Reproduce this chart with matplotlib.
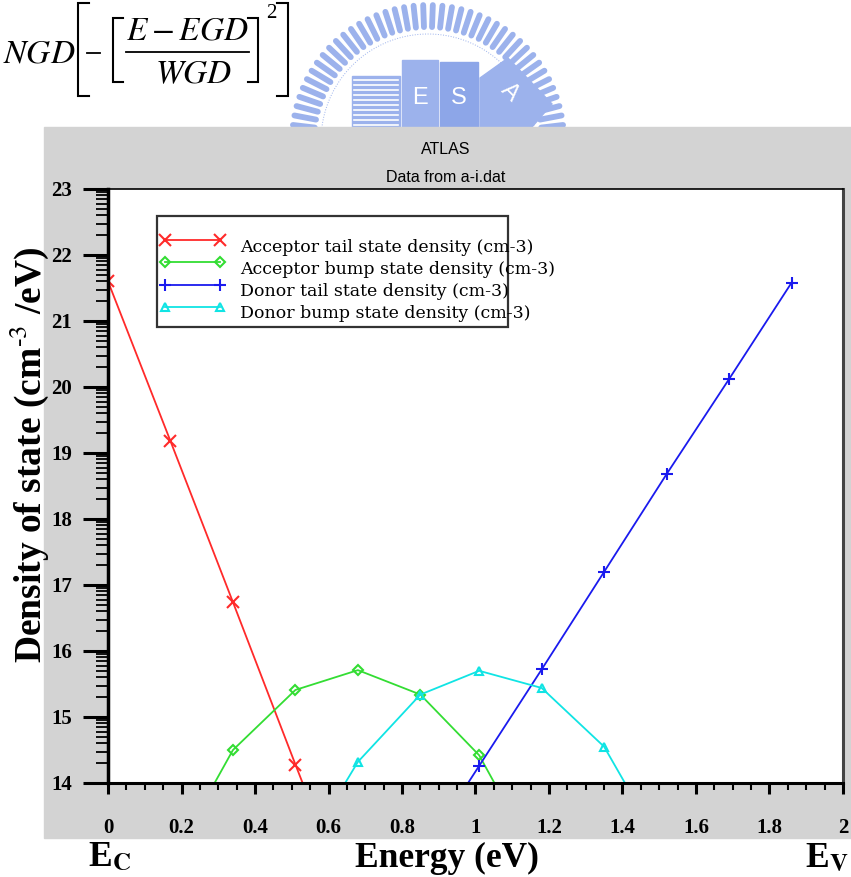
import numpy as np
import matplotlib
matplotlib.use("Agg")
import matplotlib.pyplot as plt
from matplotlib.patches import Rectangle, Polygon
from matplotlib.lines import Line2D

plt.rcParams['mathtext.fontset'] = 'stix'

# Data (log10 of density, energy in eV)
acc_tail_e = [0.0, 0.17, 0.34, 0.51, 0.68]
acc_tail = [21.6, 19.18, 16.74, 14.28, 11.85]
acc_bump_e = [0.17, 0.34, 0.51, 0.68, 0.85, 1.01, 1.18]
acc_bump = [12.8, 14.5, 15.41, 15.71, 15.34, 14.42, 12.7]
don_tail_e = [0.84, 1.01, 1.18, 1.35, 1.52, 1.69, 1.86]
don_tail = [12.8, 14.26, 15.72, 17.2, 18.68, 20.12, 21.58]
don_bump_e = [0.51, 0.68, 0.85, 1.01, 1.18, 1.35, 1.52]
don_bump = [12.75, 14.32, 15.34, 15.7, 15.44, 14.55, 12.9]

labels = ["Acceptor tail state density (cm-3)",
          "Acceptor bump state density (cm-3)",
          "Donor tail state density (cm-3)",
          "Donor bump state density (cm-3)"]
colors = ["#ff2a2a", "#33dd33", "#1a1aee", "#10e4e4"]
markers = ["x", "D", "+", "^"]
msizes = [8, 5, 9, 6]

xticks = [0, 0.2, 0.4, 0.6, 0.8, 1, 1.2, 1.4, 1.6, 1.8, 2]
xticklabels = ["0", "0.2", "0.4", "0.6", "0.8", "1", "1.2", "1.4", "1.6", "1.8", "2"]
yticks = list(range(14, 24))

W, H = 851, 877
fig = plt.figure(figsize=(W / 100, H / 100), dpi=100)

# background layer in pixel coordinates (y down)
bg = fig.add_axes([0, 0, 1, 1], zorder=0)
bg.set_xlim(0, W)
bg.set_ylim(H, 0)
bg.axis('off')

# faint watermark logo
logo_c = "#9cb2ec"
cx, cy = 428, 141
for th in np.linspace(np.pi * 0.985, np.pi * 0.015, 44):
    bg.plot([cx + 114 * np.cos(th), cx + 136 * np.cos(th)],
            [cy - 114 * np.sin(th), cy - 136 * np.sin(th)],
            color=logo_c, lw=4.2, solid_capstyle='round')
th = np.linspace(0, np.pi, 200)
bg.plot(cx + 107 * np.cos(th), cy - 107 * np.sin(th), color=logo_c, lw=0.7, ls=':')
bg.add_patch(Rectangle((352, 76), 48, 51, color=logo_c))
for yy in range(80, 127, 5):
    bg.plot([354, 398], [yy, yy], color="white", lw=1.2)
bg.add_patch(Rectangle((402, 60), 36, 67, color=logo_c))
bg.add_patch(Rectangle((440, 62), 38, 65, color="#8da6e8"))
bg.add_patch(Polygon([(480, 78), (508, 58), (552, 104), (532, 127), (480, 127)], color=logo_c))
bg.text(420, 98, "E", color="white", fontsize=17, ha='center', va='center', family="Liberation Sans")
bg.text(459, 98, "S", color="white", fontsize=17, ha='center', va='center', family="Liberation Sans")
bg.text(510, 92, "A", color="white", fontsize=17, ha='center', va='center', rotation=-45,
        family="Liberation Sans")

# formula NGD[-[(E-EGD)/WGD]^2]
def bracket(x, y0, y1, w):
    bg.plot([x + w, x, x, x + w], [y0, y0, y1, y1], color="black", lw=1.5,
            solid_joinstyle='miter')

bg.text(3, 53, r"$NGD$", fontsize=24, ha='left', va='center')
bracket(78, 3, 96, 11)
bg.plot([87, 100], [53, 53], color="black", lw=1.3)
bracket(113, 18, 82, 10)
bg.text(187, 30, r"$E-EGD$", fontsize=24, ha='center', va='center')
bg.plot([126, 249], [52, 52], color="black", lw=1.3)
bg.text(194, 74, r"$WGD$", fontsize=24, ha='center', va='center')
bracket(258, 18, 82, -10)
bg.text(266, 14, "2", fontsize=15, family="Liberation Serif", ha='left', va='center')
bracket(288, 3, 96, -11)

# grey frame panel
bg.add_patch(Rectangle((44, 127), W, 711, color="#d3d3d3", zorder=3))
bg.text(446, 149, "ATLAS", fontsize=11.5, ha='center', va='center',
        family="Liberation Sans", zorder=4)
bg.text(446, 178, "Data from a-i.dat", fontsize=11.5, ha='center', va='center',
        family="Liberation Sans", zorder=4)

# outer labels
bg.text(29, 455, r"Density of state (cm$^{\mathbf{\text{-3}}}$ /eV)", rotation=90,
        fontsize=27, fontweight='bold', family="Liberation Serif",
        ha='center', va='center', math_fontfamily='stix')
bg.text(447, 858, "Energy (eV)", fontsize=25.5, fontweight='bold',
        family="Liberation Serif", ha='center', va='center')
bg.text(88, 858, r"E$_{\mathbf{C}}$", fontsize=25.5, fontweight='bold',
        family="Liberation Serif", ha='left', va='center', math_fontfamily='stix')
bg.text(849, 858, r"E$_{\mathbf{V}}$", fontsize=25.5, fontweight='bold',
        family="Liberation Serif", ha='right', va='center', math_fontfamily='stix')

# main plot
ax = fig.add_axes([108 / W, (H - 783) / H, 735 / W, 594 / H], zorder=2)
series = [(acc_tail_e, acc_tail), (acc_bump_e, acc_bump),
          (don_tail_e, don_tail), (don_bump_e, don_bump)]
for (xe, yv), c, m, ms in zip(series, colors, markers, msizes):
    ax.plot(xe, yv, color=c, lw=1.3, marker=m, ms=ms, mfc='none', mec=c, mew=1.5)

ax.set_xlim(0, 2)
ax.set_ylim(14, 23)
ax.set_xticks(xticks)
ax.set_xticklabels(xticklabels)
ax.set_xticks(np.arange(0, 2.001, 0.05), minor=True)
ax.set_yticks(yticks)
ax.set_yticks([d + np.log10(k) for d in range(14, 23) for k in range(2, 10)], minor=True)
for lab in ax.get_xticklabels() + ax.get_yticklabels():
    lab.set_family("Liberation Serif")
    lab.set_fontweight('bold')
    lab.set_fontsize(15)
ax.tick_params(axis='y', which='major', direction='out', length=18, width=2.2, pad=8)
ax.tick_params(axis='y', which='minor', direction='out', length=9, width=1.3)
ax.tick_params(axis='x', which='major', direction='out', length=8, width=2.2, pad=17)
ax.tick_params(axis='x', which='minor', direction='out', length=5, width=1.5)
ax.spines['left'].set_linewidth(2.5)
ax.spines['bottom'].set_linewidth(2.2)
ax.spines['top'].set_linewidth(1.2)
ax.spines['right'].set_linewidth(2.2)
ax.spines['right'].set_color('#444444')

# legend layer (pixel coordinates)
top = fig.add_axes([0, 0, 1, 1], zorder=5)
top.set_xlim(0, W)
top.set_ylim(H, 0)
top.axis('off')
top.patch.set_alpha(0)
top.add_patch(Rectangle((157, 216), 351, 111, fill=False, ec="#333333", lw=1.6))
for i, (lab, c, m, ms) in enumerate(zip(labels, colors, markers, msizes)):
    yl = 240 + i * 22.3
    top.add_line(Line2D([165, 220], [yl, yl], color=c, lw=1.3, marker=m, ms=ms,
                        mfc='none', mec=c, mew=1.5))
    top.text(240, yl + 7, lab, fontsize=12.5, family="DejaVu Serif", ha='left', va='center')

fig.savefig("out.png", dpi=100)
